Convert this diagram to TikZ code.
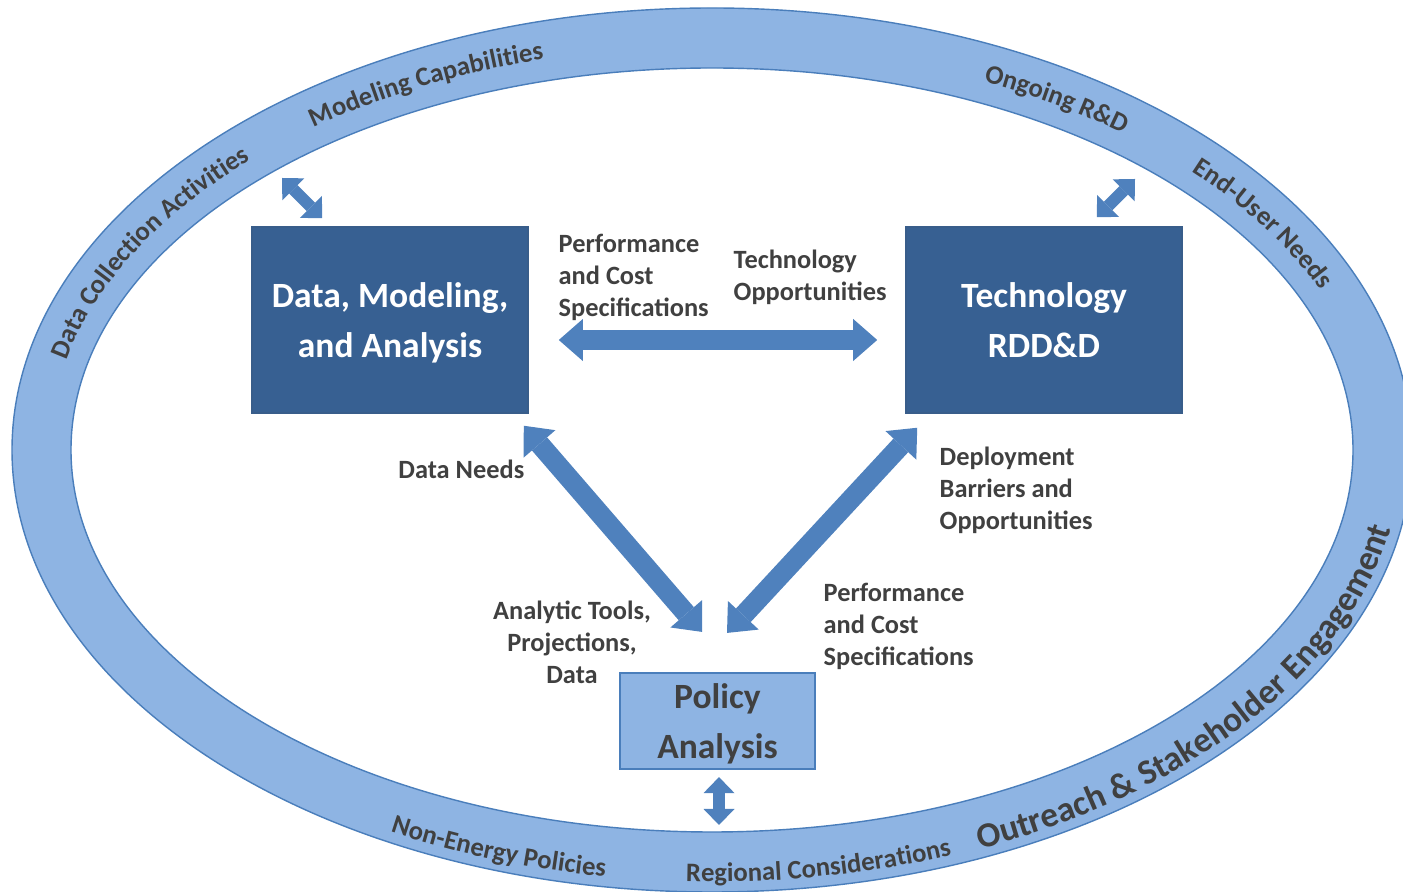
\documentclass[tikz,border=0pt]{standalone}
\usepackage{fontspec}
\setmainfont{Carlito}
\usepackage{tikz}
\usetikzlibrary{arrows.meta,decorations.text}

\definecolor{boxblue}{RGB}{55,96,146}
\definecolor{boxedge}{RGB}{56,93,138}
\definecolor{arrowblue}{RGB}{79,129,189}
\definecolor{ringblue}{RGB}{142,180,227}
\definecolor{ringedge}{RGB}{74,126,187}
\definecolor{labelgray}{RGB}{64,64,64}

\newcommand{\boxfont}{\fontsize{10.1}{14.2}\selectfont\bfseries}
\newcommand{\lblfont}{\fontsize{7.5}{9.1}\selectfont\bfseries}
\newcommand{\ringfont}{\fontsize{7.6}{9}\selectfont\bfseries}
\newcommand{\outreachfont}{\fontsize{10}{12}\selectfont\bfseries}

\begin{document}
\begin{tikzpicture}[x=0.01cm, y=0.01cm,
    darkbox/.style={fill=boxblue, draw=boxedge, line width=0.4pt, text=white,
        font=\boxfont, align=center, inner sep=0pt, text depth=0pt,
        minimum width=2.76cm, minimum height=1.86cm},
    policybox/.style={fill=ringblue, draw=ringedge, line width=0.6pt,
        text=labelgray, font=\boxfont, align=center, inner sep=0pt, text depth=0pt,
        minimum width=1.95cm, minimum height=0.96cm},
    lbl/.style={text=labelgray, font=\lblfont, align=left, inner sep=0pt},
    bigarrow/.style={draw=arrowblue, line width=0.2cm,
        {Triangle[width=0.42cm, length=0.24cm, line width=0pt]}-{Triangle[width=0.42cm, length=0.24cm, line width=0pt]}},
    smallarrow/.style={draw=arrowblue, line width=0.12cm,
        {Triangle[width=0.31cm, length=0.16cm, line width=0pt]}-{Triangle[width=0.31cm, length=0.16cm, line width=0pt]}},
    ringlabel/.style={decorate, decoration={text along path, text align=center,
        text color=labelgray, text={|\ringfont|#1}}},
    outreachlabel/.style={decorate, decoration={text along path, text align=center,
        text color=labelgray, text={|\outreachfont|#1}}}]

    \useasboundingbox (0,0) rectangle (1403,-892);
    \clip (0,0) rectangle (1403,-892);

    % Outer ring
    \path[fill=ringblue, draw=ringedge, line width=0.4pt, even odd rule]
        (712,-450) ellipse [x radius=700, y radius=442]
        (712,-450) ellipse [x radius=641, y radius=382];

    % Ring texts, top half (read clockwise)
    \path[ringlabel={Data Collection Activities}]
        (712,-450) ++(177:662 and 404) arc[start angle=177, end angle=127, x radius=662, y radius=404];
    \path[ringlabel={Modeling Capabilities}]
        (712,-450) ++(141.5:662 and 404) arc[start angle=141.5, end angle=92.5, x radius=662, y radius=404];
    \path[ringlabel={Ongoing R{\&}D}]
        (712,-450) ++(78.5:662 and 404) arc[start angle=78.5, end angle=36.5, x radius=662, y radius=404];
    \path[ringlabel={End-User Needs}]
        (712,-450) ++(53:662 and 404) arc[start angle=53, end angle=11, x radius=662, y radius=404];

    % Ring texts, bottom half (read counterclockwise)
    \path[ringlabel={Non-Energy Policies}]
        (712,-450) ++(230:688 and 432) arc[start angle=230, end angle=272, x radius=688, y radius=432];
    \path[ringlabel={Regional Considerations}]
        (712,-450) ++(255.5:688 and 432) arc[start angle=255.5, end angle=303.5, x radius=688, y radius=432];
    \path[outreachlabel={Outreach {\&} Stakeholder Engagement}]
        (712,-450) ++(286:690 and 433) arc[start angle=286, end angle=360, x radius=690, y radius=433];

    % Boxes
    \node[darkbox] (dma) at (390,-320) {Data, Modeling,\\and Analysis};
    \node[darkbox] (tech) at (1044,-320) {Technology\\RDD\&D};
    \node[policybox] (policy) at (717.5,-721) {Policy\\Analysis};

    % Flow labels
    \node[lbl, anchor=west] (specTop) at (558,-277) {Performance\\and Cost\\Specifications};
    \node[lbl, anchor=west] (techOpp) at (733,-277) {Technology\\Opportunities};
    \node[lbl, anchor=east] (dataNeeds) at (525,-469) {Data Needs};
    \node[lbl, anchor=west] (deploy) at (939,-490) {Deployment\\Barriers and\\Opportunities};
    \node[lbl, align=center] (tools) at (572,-642) {Analytic Tools,\\Projections,\\Data};
    \node[lbl, anchor=west] (specBot) at (823,-626) {Performance\\and Cost\\Specifications};

    % Arrows between the boxes
    \draw[bigarrow, shorten <=0.3cm, shorten >=0.28cm]
        ([shift={(0,-20)}]dma.east) -- ([shift={(0,-20)}]tech.west);
    \draw[bigarrow] ([shift={(-5,-12)}]dma.south east) -- ([shift={(-15.5,40)}]policy.north);
    \draw[bigarrow] ([shift={(12,-14)}]tech.south west) -- ([shift={(9.5,39)}]policy.north);

    % Arrows to the ring
    \coordinate (ringDMA) at (282,-178);
    \coordinate (ringTech) at (1135,-179);
    \coordinate (ringPolicy) at (719,-825);
    \draw[smallarrow] (ringDMA) -- ([shift={(71,8)}]dma.north west);
    \draw[smallarrow] (ringTech) -- ([shift={(-86,9)}]tech.north east);
    \draw[smallarrow] ([shift={(1.5,-7)}]policy.south) -- (ringPolicy);
\end{tikzpicture}
\end{document}
